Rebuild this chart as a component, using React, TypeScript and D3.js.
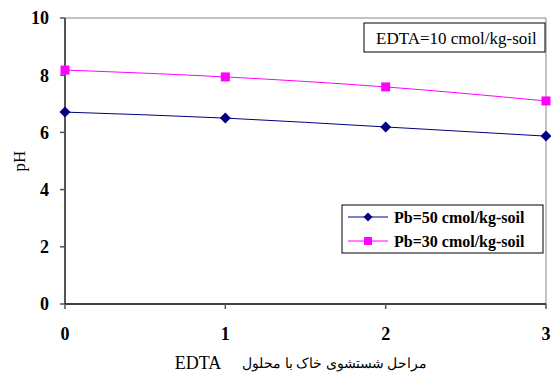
import React from 'react';
import * as d3 from 'd3';

const stages = [0, 1, 2, 3];
const pb50 = [6.71, 6.5, 6.19, 5.87];
const pb30 = [8.18, 7.94, 7.59, 7.1];
const yTicks = [0, 2, 4, 6, 8, 10];
const seriesNames = ['Pb=50 cmol/kg-soil', 'Pb=30 cmol/kg-soil'];
const boxLabel = 'EDTA=10 cmol/kg-soil';
const xTitleFa = 'مراحل شستشوی خاک با محلول';
const xTitleEn = 'EDTA';
const yTitle = 'pH';

const W = 551;
const H = 376;
const margin = { top: 18, right: 5, bottom: 72, left: 65 };

const FONT = "'Liberation Serif', 'DejaVu Serif', serif";
const txt = (size: number, bold = false): React.CSSProperties => ({
  fontFamily: FONT,
  fontSize: `${size}px`,
  fontWeight: bold ? 700 : 400,
});

export default function App() {
  const x = d3.scaleLinear().domain([0, 3]).range([margin.left, W - margin.right]);
  const y = d3.scaleLinear().domain([0, 10]).range([H - margin.bottom, margin.top]);

  const line = d3
    .line<number>()
    .x((_, i) => x(stages[i]))
    .y((d) => y(d))
    .curve(d3.curveMonotoneX);

  const diamond = (cx: number, cy: number, r: number) =>
    `M${cx},${cy - r}L${cx + r},${cy}L${cx},${cy + r}L${cx - r},${cy}Z`;

  const x0 = x(0);
  const x3 = x(3);
  const y0 = y(0);
  const y10 = y(10);

  return (
    <svg width={W} height={H} style={{ position: 'absolute', left: 0, top: 0 }}>
      <rect x={0} y={0} width={W} height={H} fill="#fff" />
      {/* frame */}
      <line x1={x0} y1={y10} x2={x3} y2={y10} stroke="#888" strokeWidth={1} />
      <line x1={x3} y1={y10} x2={x3} y2={y0} stroke="#888" strokeWidth={1} />

      {/* y axis */}
      <line x1={x0} y1={y10} x2={x0} y2={y0} stroke="#555" strokeWidth={2} />
      {yTicks.map((t) => (
        <g key={t}>
          <line x1={x0 - 5} x2={x0} y1={y(t)} y2={y(t)} stroke="#555" strokeWidth={1.5} />
          <text x={49} y={y(t)} dy="0.35em" textAnchor="end" style={txt(18, true)}>
            {t}
          </text>
        </g>
      ))}

      {/* x axis */}
      <line x1={x0} y1={y0} x2={x3} y2={y0} stroke="#000" strokeWidth={1.5} />
      {stages.map((s) => (
        <g key={s}>
          <line x1={x(s)} x2={x(s)} y1={y0} y2={y0 + 5} stroke="#555" strokeWidth={1.5} />
          <text x={x(s)} y={334} dy="0.35em" textAnchor="middle" style={txt(18, true)}>
            {s}
          </text>
        </g>
      ))}

      {/* titles */}
      <text transform={`translate(19,${(y0 + y10) / 2}) rotate(-90)`} textAnchor="middle" dy="0.35em" style={txt(17)}>
        {yTitle}
      </text>
      <text x={198} y={363} dy="0.35em" textAnchor="middle" style={txt(18)}>
        {xTitleEn}
      </text>
      <text x={427} y={363} dy="0.35em" textAnchor="end" style={txt(14)}>
        {xTitleFa}
      </text>

      {/* series */}
      <path d={line(pb50) || ''} fill="none" stroke="#000080" strokeWidth={1} />
      <path d={line(pb30) || ''} fill="none" stroke="#ff00ff" strokeWidth={1} />
      {pb50.map((v, i) => (
        <path key={'a' + i} d={diamond(x(stages[i]), y(v), 5.5)} fill="#000080" />
      ))}
      {pb30.map((v, i) => (
        <rect key={'b' + i} x={x(stages[i]) - 4.5} y={y(v) - 4.5} width={9} height={9} fill="#ff00ff" />
      ))}

      {/* EDTA box */}
      <rect x={364} y={23} width={181} height={29} fill="#fff" stroke="#000" strokeWidth={1} />
      <text x={376} y={38} dy="0.35em" style={txt(17)}>
        {boxLabel}
      </text>

      {/* legend */}
      <rect x={342} y={205} width={201} height={48} fill="#fff" stroke="#000" strokeWidth={1} />
      {seriesNames.map((name, i) => {
        const ly = 217 + i * 24;
        const color = i === 0 ? '#000080' : '#ff00ff';
        return (
          <g key={name}>
            <line x1={348} x2={388} y1={ly} y2={ly} stroke={color} strokeWidth={1} />
            {i === 0 ? (
              <path d={diamond(368, ly, 4.5)} fill={color} />
            ) : (
              <rect x={364} y={ly - 4} width={8} height={8} fill={color} />
            )}
            <text x={394} y={ly} dy="0.35em" style={txt(16, true)}>
              {name}
            </text>
          </g>
        );
      })}
    </svg>
  );
}
